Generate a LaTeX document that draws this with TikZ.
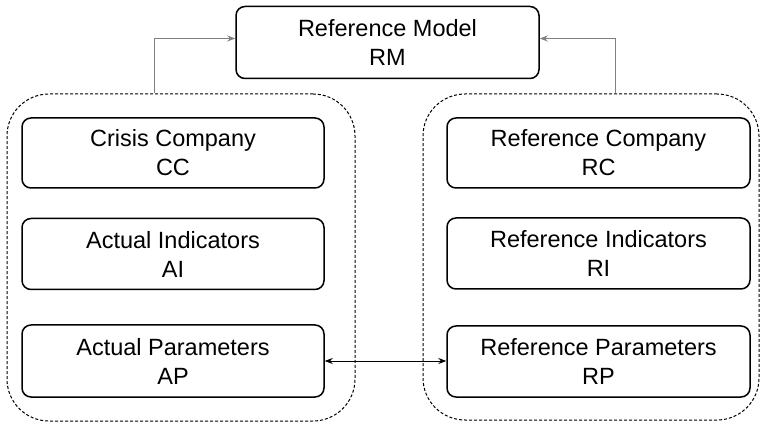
\documentclass[tikz,border=0pt]{standalone}
\usepackage{fontspec}
\setmainfont{Liberation Sans}
\usetikzlibrary{arrows.meta}
\begin{document}
\begin{tikzpicture}[x=1pt,y=1pt,
  box/.style={draw=black,line width=1.5pt,rounded corners=9pt,minimum width=302pt,minimum height=71pt,align=center,inner sep=0pt,font=\fontsize{23.5}{29}\selectfont},
  container/.style={draw=black,line width=1pt,dash pattern=on 3pt off 2pt,rounded corners=42pt,inner sep=0pt},
  graylink/.style={draw=gray,line width=0.9pt,-{Stealth[length=8pt,width=6pt]}},
  blacklink/.style={draw=black,line width=0.9pt,{Stealth[length=8pt,width=6pt]}-{Stealth[length=8pt,width=6pt]}}]
\useasboundingbox (0,0) rectangle (761,-422);
\node[container,minimum width=348pt,minimum height=327pt] (Lc) at (181,-257.5) {};
\node[container,minimum width=336pt,minimum height=326pt] (Rc) at (591,-257) {};
\node[box,minimum width=303pt,minimum height=72pt] (RM) at (387.5,-42.5) {Reference Model\\RM};
\node[box,minimum height=70pt] (CC) at (173,-153) {Crisis Company\\CC};
\node[box] (AI) at (173,-254) {Actual Indicators\\AI};
\node[box,minimum height=72pt] (AP) at (173,-361) {Actual Parameters\\AP};
\node[box,minimum width=303pt,minimum height=70pt] (RC) at (598.5,-153) {Reference Company\\RC};
\node[box,minimum width=303pt] (RI) at (598.5,-253.5) {Reference Indicators\\RI};
\node[box,minimum width=303pt] (RP) at (598.5,-361.5) {Reference Parameters\\RP};
\draw[graylink] ([xshift=-27pt]Lc.north) |- ([yshift=4pt]RM.west);
\draw[graylink] ([xshift=24pt]Rc.north) |- ([yshift=4pt]RM.east);
\draw[blacklink] (AP.east) -- (AP.east -| RP.west);
\end{tikzpicture}
\end{document}
